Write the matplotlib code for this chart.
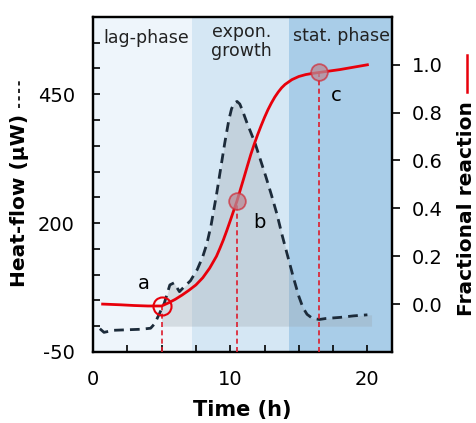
import numpy as np
import matplotlib
matplotlib.use('Agg')
import matplotlib.pyplot as plt
from matplotlib.lines import Line2D

# heat-flow curve (left axis, uW)
t_heat = [0.5, 0.8, 1.5, 2.5, 3.5, 4.2, 4.5, 4.8, 5.2, 5.6, 5.9, 6.3, 6.7,
          7.1, 7.6, 8.0, 8.3, 8.6, 9.0, 9.3, 9.6, 9.9, 10.1, 10.3, 10.5,
          10.7, 10.9, 11.2, 11.5, 11.8, 12.2, 12.6, 13.0, 13.4, 13.8, 14.2,
          14.6, 15.0, 15.3, 15.6, 16.0, 16.5, 17.0, 18.0, 19.0, 20.0]
heat = [-5, -12, -8, -7, -6, -4, 5, 22, 45, 80, 84, 67, 78,
        88, 110, 135, 160, 195, 255, 305, 355, 400, 422, 433, 436,
        431, 418, 396, 376, 356, 323, 290, 255, 218, 175, 135,
        95, 58, 36, 23, 15, 13, 15, 17, 20, 22]

# fractional reaction (right axis)
t_frac = [0.7, 2, 3, 4, 5, 5.5, 6, 6.5, 7, 7.5, 8, 8.5, 9, 9.25, 9.5, 9.75,
          10, 10.25, 10.5, 10.75, 11, 11.25, 11.5, 11.75, 12, 12.25, 12.5,
          12.75, 13, 13.25, 13.5, 13.75, 14, 14.5, 15, 15.5, 16, 16.5, 17,
          18, 19, 20]
frac = [0.0, -0.003, -0.006, -0.008, -0.008, 0.005, 0.02, 0.038, 0.058,
        0.08, 0.11, 0.15, 0.2, 0.233, 0.268, 0.307, 0.348, 0.39, 0.432,
        0.48, 0.528, 0.577, 0.625, 0.668, 0.708, 0.745, 0.78, 0.812, 0.84,
        0.865, 0.886, 0.904, 0.918, 0.938, 0.951, 0.959, 0.964, 0.968,
        0.972, 0.98, 0.99, 1.0]

# marked points a, b, c
pt_labels = ['a', 'b', 'c']
pt_t = [5.0, 10.5, 16.5]
pt_frac = [-0.008, 0.432, 0.968]

# phases
phase_names = ['lag-phase', 'expon.\ngrowth', 'stat. phase']
phase_edges = [0, 7.2, 14.3, 21.8]
phase_colors = ['#eef5fb', '#d5e7f4', '#a9cde8']

fig = plt.figure(figsize=(4.77, 4.23), dpi=100)
ax = fig.add_axes([0.195, 0.168, 0.627, 0.792])
ax2 = ax.twinx()

for i in range(3):
    ax.axvspan(phase_edges[i], phase_edges[i + 1], color=phase_colors[i],
               lw=0, zorder=0)

# gray area under the heat-flow curve
t_arr = np.array(t_heat)
h_arr = np.array(heat)
m = t_arr >= 4.8
ax.fill_between(np.r_[5.0, t_arr[m], 20.3], 0,
                np.r_[30, h_arr[m], 22], color='#9aa3aa', alpha=0.3,
                lw=0, zorder=1)

ax.plot(t_heat, heat, color='#1c2b3a', lw=2, ls=(0, (3.5, 2.2)), zorder=3)

ax.set_xlim(0, 21.8)
ax.set_ylim(-50, 600)
ax.set_xticks(np.arange(0, 20.1, 2.5))
ax.set_xticklabels(['0', '', '', '', '10', '', '', '', '20'])
yt = np.arange(-50, 551, 50)
ax.set_yticks(yt)
ax.set_yticklabels([str(v) if v in (-50, 200, 450) else '' for v in yt])
ax.tick_params(axis='both', direction='in', length=5, width=1.2,
               labelsize=14, pad=13)

# fractional reaction on right axis
ax2.plot(t_frac, frac, color='#e8000b', lw=2, zorder=4)
for lab, tx, fy in zip(pt_labels, pt_t, pt_frac):
    ax2.plot([tx, tx], [-0.2, fy], color='#dd1c2c', lw=1.2,
             ls=(0, (3, 2)), zorder=3)
    if lab == 'a':
        ax2.plot(tx, fy, 'o', ms=13, mfc='none', mec='#e8000b', mew=1.5,
                 zorder=5)
    else:
        ax2.plot(tx, fy, 'o', ms=12, mfc='#b98a96', mec='#d0303c',
                 mew=1.3, alpha=0.75, zorder=5)

ax2.text(3.7, 0.087, 'a', fontsize=14, ha='center', va='center')
ax2.text(12.1, 0.34, 'b', fontsize=14, ha='center', va='center')
ax2.text(17.7, 0.87, 'c', fontsize=14, ha='center', va='center')

ax2.set_ylim(-0.2, 1.2)
ax2.set_yticks(np.arange(0, 1.01, 0.2))
ax2.set_yticklabels([f'{v:.1f}' for v in np.arange(0, 1.01, 0.2)])
ax2.tick_params(axis='y', direction='out', length=6, width=1.2,
                labelsize=14, pad=8)

for a in (ax, ax2):
    for s in a.spines.values():
        s.set_linewidth(1.6)
        s.set_color('black')

# phase labels
ax.text(3.9, 560, phase_names[0], fontsize=12.5, ha='center', va='center',
        color='#222222')
ax.text(10.8, 552, phase_names[1], fontsize=12.5, ha='center', va='center',
        color='#222222', linespacing=1.05)
ax.text(18.1, 563, phase_names[2], fontsize=12.5, ha='center', va='center',
        color='#222222')

ax.set_xlabel('Time (h)', fontsize=15, fontweight='bold', labelpad=8)
fig.text(0.04, 0.525, 'Heat-flow (μW)', rotation=90, fontsize=14.5,
         fontweight='bold', ha='center', va='center')
fig.add_artist(Line2D([0.04, 0.04], [0.745, 0.81], color='black', lw=1.2,
                      ls=(0, (2.5, 2)), transform=fig.transFigure))
fig.text(0.978, 0.508, 'Fractional reaction', rotation=90, fontsize=14.5,
         fontweight='bold', ha='center', va='center')
fig.add_artist(Line2D([0.978, 0.978], [0.783, 0.87], color='#e8000b',
                      lw=1.8, transform=fig.transFigure))

fig.savefig('out.png', dpi=100)
